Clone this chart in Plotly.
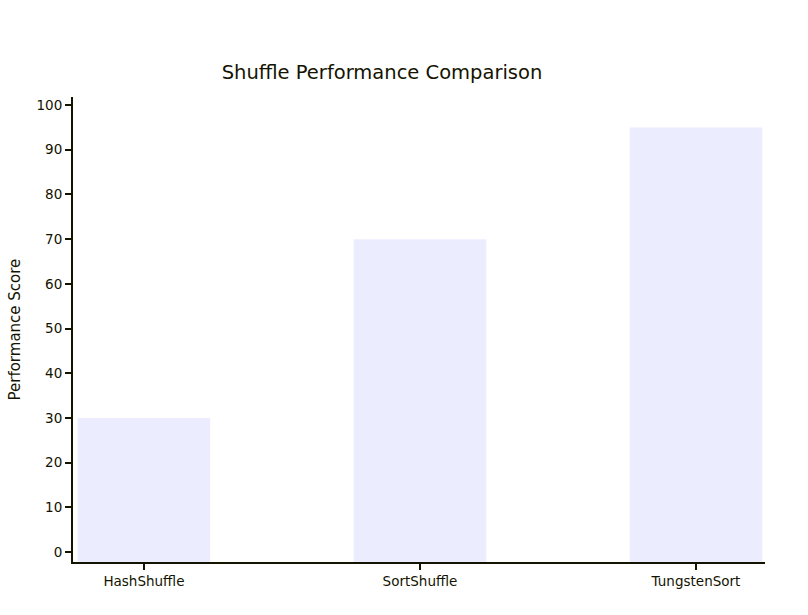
import plotly.graph_objects as go

categories = ["HashShuffle", "SortShuffle", "TungstenSort"]
scores = [30, 70, 95]
y_ticks = [0, 10, 20, 30, 40, 50, 60, 70, 80, 90, 100]

W, H = 808, 615
L, R, T, B = 73, 765, 97, 562
TEXT = "#131300"
FONT = "DejaVu Sans, sans-serif"
Y_MIN, Y_MAX = -2.24, 101.8

# bars are drawn from the bottom of the plot area (the x axis line) up to the value
fig = go.Figure(go.Bar(
    x=categories, y=[s - Y_MIN for s in scores], base=[Y_MIN] * len(scores),
    width=0.48,
    marker=dict(color="#ECECFF", line=dict(width=0)),
    customdata=scores,
    hovertemplate="%{x}: %{customdata}<extra></extra>",
))

fig.update_layout(
    width=W, height=H,
    margin=dict(l=L, r=W - R, t=T, b=H - B, pad=0),
    paper_bgcolor="white", plot_bgcolor="white",
    font=dict(family=FONT, color=TEXT, size=13.5),
    showlegend=False,
    title=dict(text="Shuffle Performance Comparison", x=382 / W, xanchor="center",
               xref="container", y=1 - 72 / H, yref="container", yanchor="middle",
               font=dict(size=19.5, color=TEXT, family=FONT)),
    xaxis=dict(range=[-0.257, 2.25], showgrid=False, zeroline=False,
               showline=True, linecolor=TEXT, linewidth=2,
               ticks="outside", ticklen=6, tickwidth=2, tickcolor=TEXT,
               tickfont=dict(size=13.5, color=TEXT), fixedrange=True),
    yaxis=dict(range=[Y_MIN, Y_MAX], showgrid=False, zeroline=False,
               showline=True, linecolor=TEXT, linewidth=2,
               tickvals=y_ticks, ticktext=[str(v) for v in y_ticks],
               ticks="outside", ticklen=6, tickwidth=2, tickcolor=TEXT,
               tickfont=dict(size=13.5, color=TEXT), fixedrange=True),
    annotations=[dict(text="Performance Score", textangle=-90, xref="paper", yref="paper",
                      x=(14 - L) / (R - L), y=0.5, xanchor="center", yanchor="middle",
                      showarrow=False, font=dict(size=15, color=TEXT, family=FONT))],
)

fig.write_html(
    "out.html",
    config={"displayModeBar": False},
    post_script="document.body.style.margin='0';document.body.style.overflow='hidden';",
)
